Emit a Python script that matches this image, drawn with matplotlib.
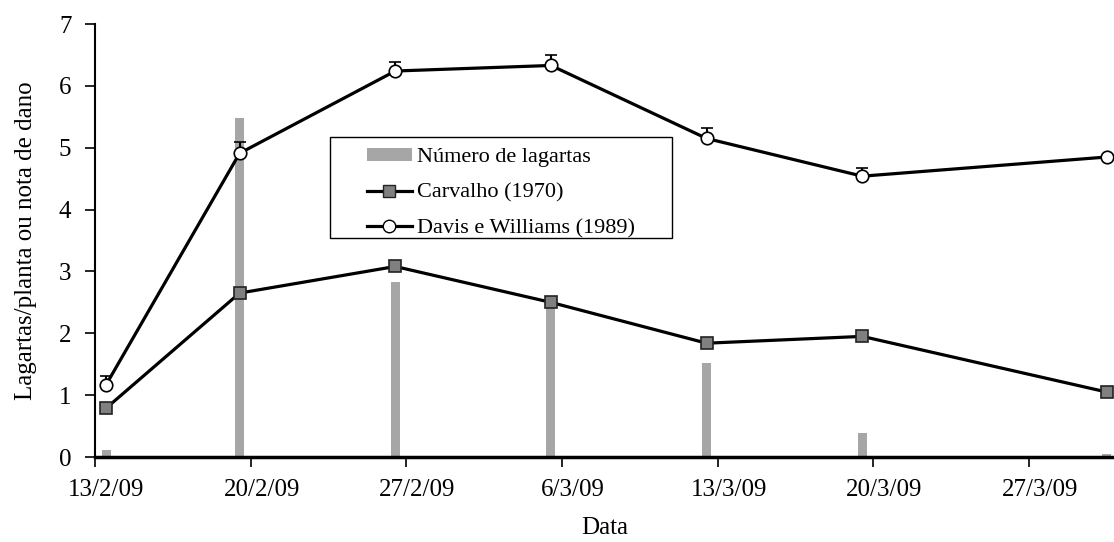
import datetime as dt
import matplotlib
matplotlib.use('Agg')
import matplotlib.pyplot as plt
from matplotlib.lines import Line2D
from matplotlib.patches import Patch, Rectangle

plt.rcParams['font.family'] = ['Liberation Serif', 'DejaVu Serif']
plt.rcParams['font.size'] = 18

# --- data --- #
dates = ['13/2/2009', '19/2/2009', '26/2/2009', '5/3/2009',
         '12/3/2009', '19/3/2009', '30/3/2009']
lagartas = [0.12, 5.48, 2.83, 2.55, 1.52, 0.39, 0.05]
carvalho = [0.79, 2.65, 3.08, 2.50, 1.84, 1.95, 1.05]
carvalho_err = [0.0, 0.07, 0.05, 0.08, 0.09, 0.08, 0.0]
davis = [1.17, 4.91, 6.24, 6.33, 5.15, 4.54, 4.85]
davis_err = [0.14, 0.18, 0.15, 0.17, 0.17, 0.14, 0.0]
tick_dates = ['13/2/2009', '20/2/2009', '27/2/2009', '6/3/2009',
              '13/3/2009', '20/3/2009', '27/3/2009']
tick_labels = ['13/2/09', '20/2/09', '27/2/09', '6/3/09',
               '13/3/09', '20/3/09', '27/3/09']

bar_color = '#A6A6A6'
square_color = '#808080'

# --- end data --- #

# Excel-style date axis: each day's value sits in the middle of its slot
half_day = dt.timedelta(hours=12)
x = [dt.datetime.strptime(d, '%d/%m/%Y') + half_day for d in dates]
ticks = [dt.datetime.strptime(d, '%d/%m/%Y') for d in tick_dates]
n = len(x)

fig = plt.figure(figsize=(11.14, 5.42), dpi=100, facecolor='white')
ax = fig.add_axes([0.0853, 0.1568, 0.9147, 0.7989])

ax.bar(x, lagartas, width=0.4, color=bar_color, zorder=1)

line_kw = dict(color='black', lw=2.3, ecolor='black', elinewidth=1.5,
               capsize=4, capthick=2, markersize=9, markeredgewidth=1.2,
               zorder=3)
ax.errorbar(x, carvalho, yerr=[[0] * n, carvalho_err], marker='s',
            markerfacecolor=square_color, markeredgecolor='#222222', **line_kw)
ax.errorbar(x, davis, yerr=[[0] * n, davis_err], marker='o',
            markerfacecolor='white', markeredgecolor='black', **line_kw)

ax.set_xlim(ticks[0], ticks[0] + dt.timedelta(days=45.82))
ax.set_ylim(0, 7)
ax.set_yticks(range(0, 8))

# tick marks on day boundaries, labels centred in the day slot
ax.set_xticks(ticks)
ax.set_xticklabels([''] * len(ticks))
ax.set_xticks([t + half_day for t in ticks], minor=True)
ax.set_xticklabels(tick_labels, minor=True)
ax.tick_params(axis='x', which='minor', length=0, pad=16, labelsize=18)

ax.spines['top'].set_visible(False)
ax.spines['right'].set_visible(False)
ax.spines['left'].set_linewidth(1.5)
ax.spines['bottom'].set_linewidth(2.5)
ax.tick_params(axis='both', which='major', direction='out', length=7, width=1.2,
               labelsize=18)
ax.tick_params(axis='y', pad=10)

ax.set_xlabel('Data', fontsize=18, labelpad=11)
ax.set_ylabel('Lagartas/planta ou nota de dano', fontsize=18, labelpad=16)

handles = [
    Patch(facecolor=bar_color, edgecolor='none'),
    Line2D([], [], color='black', lw=2.3, marker='s', markersize=9,
           markerfacecolor=square_color, markeredgecolor='#222222'),
    Line2D([], [], color='black', lw=2.3, marker='o', markersize=9,
           markerfacecolor='white', markeredgecolor='black'),
]
labels = ['Número de lagartas', 'Carvalho (1970)', 'Davis e Williams (1989)']
leg = ax.legend(handles, labels, loc='upper left', bbox_to_anchor=(0.267, 0.714),
                frameon=False, fontsize=16, handlelength=2.0, handleheight=0.55,
                handletextpad=0.25, borderpad=0, borderaxespad=0,
                labelspacing=0.72)

# legend frame
fig.patches.append(Rectangle((0.2962, 0.5609), 0.307, 0.1863,
                             transform=fig.transFigure, fill=False,
                             edgecolor='black', lw=1.0, zorder=5))

fig.savefig('out.png', dpi=100)
